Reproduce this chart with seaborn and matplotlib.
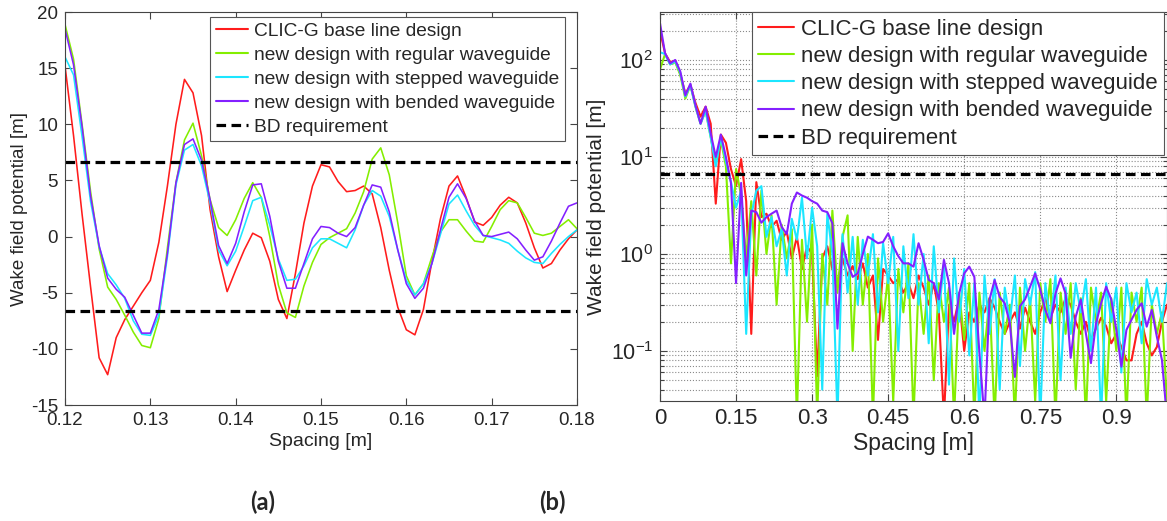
import numpy as np
import pandas as pd
import matplotlib
matplotlib.use("Agg")
import matplotlib.pyplot as plt
from matplotlib.lines import Line2D
import seaborn as sns

# ---------------- data ----------------
series_names = ["CLIC-G base line design",
                "new design with regular waveguide",
                "new design with stepped waveguide",
                "new design with bended waveguide"]
bd_label = "BD requirement"
bd_level = 6.6

# panel (a): wake field potential vs spacing 0.12..0.18 m (step 1 mm)
spacing_a = np.round(np.linspace(0.12, 0.18, 61), 3)
red_a = [15.2, 9.0, 2.0, -4.5, -10.8, -12.3, -9.0, -7.4, -6.2, -5.0,
         -3.9, -0.5, 4.5, 10.0, 14.0, 12.8, 9.0, 2.4, -1.8, -4.9,
         -3.0, -1.2, 0.3, -0.1, -2.2, -5.6, -7.3, -3.3, 1.2, 4.5,
         6.4, 6.2, 4.9, 4.0, 4.1, 4.5, 3.8, 0.8, -3.0, -6.3,
         -8.3, -8.75, -6.5, -2.2, 1.6, 4.5, 5.4, 3.5, 1.3, 1.0,
         1.7, 2.8, 3.5, 3.0, 1.2, -1.0, -2.8, -2.4, -1.2, -0.2, 0.6]
green_a = [18.9, 15.8, 10.0, 4.0, -1.1, -4.5, -5.6, -7.0, -8.5, -9.7,
           -9.9, -7.3, -1.0, 4.8, 8.6, 10.1, 7.2, 3.3, 0.8, 0.1,
           1.5, 3.4, 4.8, 3.5, 0.0, -4.3, -6.8, -7.2, -4.4, -2.3,
           -0.7, -0.1, 0.3, 0.7, 2.1, 4.0, 6.9, 7.9, 5.5, 1.2,
           -3.5, -5.2, -4.2, -1.8, 0.4, 1.5, 1.5, 0.5, -0.4, -0.5,
           0.9, 2.4, 3.2, 3.0, 1.7, 0.3, 0.1, 0.3, 0.9, 1.5, 0.7]
cyan_a = [16.0, 14.4, 8.9, 3.1, -0.9, -3.3, -4.3, -5.5, -7.5, -8.7,
          -8.8, -7.0, -1.8, 4.6, 7.7, 8.2, 6.3, 3.0, -1.2, -2.6,
          -1.3, 0.9, 3.2, 3.5, 1.0, -2.0, -3.9, -3.8, -2.6, -1.0,
          -0.2, -0.2, -0.6, -1.0, 0.6, 2.8, 4.1, 3.6, 1.8, -1.2,
          -3.9, -5.2, -4.2, -2.4, 0.2, 2.9, 3.7, 2.3, 1.0, 0.1,
          -0.1, -0.3, -0.6, -1.3, -1.9, -2.3, -2.4, -1.5, -0.7, 0.0, 0.6]
purple_a = [18.5, 15.3, 9.8, 3.6, -0.8, -3.7, -4.7, -5.4, -7.0, -8.6,
            -8.6, -6.5, -1.5, 4.8, 8.2, 8.7, 6.8, 3.3, -0.8, -2.4,
            -0.6, 2.2, 4.6, 4.7, 1.8, -2.2, -4.6, -4.6, -2.4, -0.2,
            0.9, 0.8, 0.3, 0.0, 0.8, 2.8, 4.6, 4.4, 2.2, -1.2,
            -4.2, -5.5, -4.6, -2.4, 0.6, 3.5, 4.7, 3.4, 1.4, 0.1,
            0.0, 0.2, 0.4, -0.2, -1.2, -2.1, -1.8, -0.4, 1.2, 2.7, 3.0]

# panel (b): |wake field potential| vs spacing 0..1 m (step 10 mm)
spacing_b = np.round(np.linspace(0.0, 1.0, 101), 2)
red_b = [200, 117, 95, 98, 72, 45, 55, 36, 26, 33,
         22, 3.3, 17, 14, 7.5, 5.0, 9.5, 3.5, 0.15, 5.5,
         2.4, 2.6, 1.9, 2.2, 1.4, 1.7, 0.9, 1.5, 0.7, 1.2,
         1.0, 0.055, 0.9, 1.2, 0.7, 0.5, 0.9, 0.6, 0.75, 0.55,
         0.8, 0.45, 0.6, 0.13, 0.7, 0.6, 0.5, 0.55, 0.4, 0.5,
         0.35, 0.6, 0.45, 0.3, 0.5, 0.25, 0.02, 0.3, 0.2, 0.35,
         0.1, 0.25, 0.2, 0.3, 0.25, 0.35, 0.28, 0.2, 0.15, 0.2,
         0.25, 0.17, 0.28, 0.2, 0.15, 0.25, 0.35, 0.22, 0.3, 0.25,
         0.35, 0.3, 0.2, 0.15, 0.2, 0.13, 0.17, 0.22, 0.18, 0.12,
         0.15, 0.11, 0.08, 0.08, 0.15, 0.2, 0.12, 0.09, 0.11, 0.2, 0.3]
green_b = [80, 115, 90, 95, 70, 40, 55, 33, 22, 30,
           16, 9, 15, 8, 0.8, 7.5, 4.0, 0.9, 3.5, 0.6,
           4.5, 1.0, 2.5, 0.3, 2.0, 0.9, 1.8, 0.02, 1.4, 0.2,
           2.0, 0.02, 1.0, 0.3, 2.8, 0.4, 1.5, 2.5, 0.1, 1.5,
           0.3, 1.0, 0.02, 0.9, 0.2, 0.6, 0.03, 0.7, 0.25, 0.8,
           0.02, 0.5, 0.15, 0.6, 0.05, 0.5, 0.2, 0.45, 0.02, 0.4,
           0.13, 0.5, 0.02, 0.4, 0.1, 0.35, 0.02, 0.4, 0.15, 0.3,
           0.02, 0.45, 0.1, 0.35, 0.03, 0.5, 0.2, 0.55, 0.02, 0.4,
           0.15, 0.5, 0.04, 0.35, 0.02, 0.45, 0.2, 0.4, 0.03, 0.35,
           0.1, 0.45, 0.02, 0.4, 0.2, 0.45, 0.02, 0.3, 0.15, 0.25, 0.03]
cyan_b = [120, 115, 90, 97, 74, 42, 55, 33, 22, 30,
          16, 8, 16, 9, 5.5, 3.0, 4.5, 0.15, 2.5, 4.5,
          5.0, 1.5, 2.4, 1.2, 1.8, 0.6, 2.3, 1.4, 3.8, 0.9,
          3.0, 1.2, 0.04, 2.6, 1.0, 0.02, 1.6, 0.4, 1.5, 0.3,
          1.4, 0.6, 1.6, 0.25, 1.3, 0.5, 1.5, 0.1, 1.2, 0.35,
          1.6, 0.3, 1.0, 0.12, 1.2, 0.25, 0.8, 0.045, 0.9, 0.2,
          0.7, 0.09, 0.5, 0.02, 0.6, 0.15, 0.55, 0.04, 0.45, 0.2,
          0.6, 0.07, 0.55, 0.3, 0.65, 0.02, 0.5, 0.2, 0.6, 0.05,
          0.45, 0.15, 0.5, 0.25, 0.55, 0.1, 0.45, 0.02, 0.5, 0.2,
          0.45, 0.06, 0.5, 0.25, 0.4, 0.12, 0.55, 0.3, 0.45, 0.2, 0.5]
purple_b = [239, 117, 92, 100, 76, 43, 57, 34, 22, 33,
            17.5, 10, 17, 10, 5.4, 0.5, 5.4, 0.6, 2.8, 2.7,
            2.1, 2.4, 2.6, 2.8, 1.9, 1.6, 3.3, 4.3, 4.0, 3.8,
            3.5, 3.3, 2.8, 2.7, 2.07, 0.17, 1.29, 0.80, 0.58, 0.63,
            1.0, 1.51, 1.4, 1.29, 1.33, 1.63, 1.2, 0.95, 0.80, 0.80,
            0.74, 1.29, 0.87, 0.54, 0.50, 0.34, 0.87, 0.50, 0.15, 0.39,
            0.63, 0.74, 0.58, 0.095, 0.02, 0.34, 0.54, 0.36, 0.31, 0.193,
            0.054, 0.29, 0.34, 0.46, 0.63, 0.43, 0.265, 0.193, 0.39, 0.56,
            0.39, 0.085, 0.226, 0.34, 0.152, 0.075, 0.193, 0.31, 0.46, 0.34,
            0.165, 0.069, 0.165, 0.21, 0.265, 0.31, 0.178, 0.265, 0.14, 0.081, 0.02]

xticks_a = [0.12, 0.13, 0.14, 0.15, 0.16, 0.17, 0.18]
yticks_a = [-15, -10, -5, 0, 5, 10, 15, 20]
xticks_b = [0, 0.15, 0.3, 0.45, 0.6, 0.75, 0.9]
xticklabels_b = ["0", "0.15", "0.3", "0.45", "0.6", "0.75", "0.9"]

colors = ["#ff1c1c", "#84ee00", "#1ce6ff", "#8420ff"]

# ---------------- style ----------------
sns.set_style("ticks")
plt.rcParams["font.family"] = ["Liberation Sans", "DejaVu Sans"]
plt.rcParams["mathtext.default"] = "regular"
plt.rcParams["axes.unicode_minus"] = False

palette = dict(zip(series_names, colors))

df_a = pd.DataFrame({
    "Spacing": np.tile(spacing_a, 4),
    "W": np.concatenate([red_a, green_a, cyan_a, purple_a]),
    "series": np.repeat(series_names, len(spacing_a)),
})
df_b = pd.DataFrame({
    "Spacing": np.tile(spacing_b, 4),
    "W": np.concatenate([red_b, green_b, cyan_b, purple_b]),
    "series": np.repeat(series_names, len(spacing_b)),
})

W, H = 1167, 521
fig = plt.figure(figsize=(W / 100, H / 100), dpi=100)
ax1 = fig.add_axes([65 / W, (H - 405) / H, 512 / W, 393 / H])
ax2 = fig.add_axes([660 / W, (H - 401) / H, 507 / W, 389 / H])

spine_col = "#444444"
bd_style = dict(color="black", ls="--", lw=2.3, dashes=(3.0, 1.7))

# ---- panel (a) ----
sns.lineplot(data=df_a, x="Spacing", y="W", hue="series", palette=palette,
             hue_order=series_names, estimator=None, sort=False,
             legend=False, lw=1.15, ax=ax1)
ax1.axhline(bd_level, **bd_style)
ax1.axhline(-bd_level, **bd_style)
ax1.set_xlim(0.12, 0.18)
ax1.set_ylim(-15, 20)
ax1.set_xticks(xticks_a)
ax1.set_xticklabels([f"{v:.2f}" for v in xticks_a])
ax1.set_yticks(yticks_a)
ax1.tick_params(direction="in", top=True, right=True, length=5,
                width=0.8, color=spine_col, labelsize=13.5, pad=5)
ax1.set_xlabel("Spacing [m]", fontsize=14, labelpad=3)
ax1.set_ylabel("Wake field potential [m]", fontsize=13.5, labelpad=2)
for s in ax1.spines.values():
    s.set_color(spine_col)
    s.set_linewidth(0.8)

handles = [Line2D([], [], color=c, lw=1.5) for c in colors]
handles.append(Line2D([], [], **bd_style))
labels = series_names + [bd_label]

leg1 = ax1.legend(handles, labels, loc="upper left",
                  bbox_to_anchor=(0.283, 0.988), borderaxespad=0,
                  fontsize=13.8, frameon=True, fancybox=False,
                  framealpha=1, edgecolor="#555555", borderpad=0.3,
                  labelspacing=0.34, handlelength=1.7, handletextpad=0.3)
leg1.get_frame().set_linewidth(0.8)

# ---- panel (b) ----
ax2.set_yscale("log")
ax2.grid(True, which="both", axis="y", ls=":", color="#8a8a8a", lw=0.8)
ax2.grid(True, which="major", axis="x", ls=":", color="#8a8a8a", lw=0.8)
sns.lineplot(data=df_b, x="Spacing", y="W", hue="series", palette=palette,
             hue_order=series_names, estimator=None, sort=False,
             legend=False, lw=1.5, ax=ax2)
ax2.axhline(bd_level, **bd_style)
ax2.set_xlim(0, 1.0)
ax2.set_ylim(0.0305, 312)
ax2.set_xticks(xticks_b)
ax2.set_xticklabels(xticklabels_b)
ax2.tick_params(axis="x", labelsize=16)
ax2.tick_params(axis="y", labelsize=15.5)
ax2.tick_params(which="both", direction="in", top=True, right=True,
                color=spine_col, width=0.8, pad=5)
ax2.tick_params(which="major", length=5)
ax2.tick_params(which="minor", length=3)
ax2.set_xlabel("Spacing [m]", fontsize=16.5, labelpad=2)
ax2.set_ylabel("Wake field potential [m]", fontsize=15, labelpad=3)
for s in ax2.spines.values():
    s.set_color(spine_col)
    s.set_linewidth(0.8)

leg2 = ax2.legend(handles, labels, loc="upper left",
                  bbox_to_anchor=(0.181, 1.0), borderaxespad=0,
                  fontsize=16, frameon=True, fancybox=False,
                  framealpha=1, edgecolor="#555555", borderpad=0.3,
                  labelspacing=0.28, handlelength=1.6, handletextpad=0.3)
leg2.get_frame().set_linewidth(0.8)

# ---- panel captions ----
fig.text(263 / W, 1 - 502 / H, "(a)", ha="center", va="center",
         fontsize=17, fontweight="bold", family=["Lato", "DejaVu Sans"])
fig.text(552 / W, 1 - 502 / H, "(b)", ha="center", va="center",
         fontsize=17, fontweight="bold", family=["Lato", "DejaVu Sans"])

fig.savefig("out.png", dpi=100)
